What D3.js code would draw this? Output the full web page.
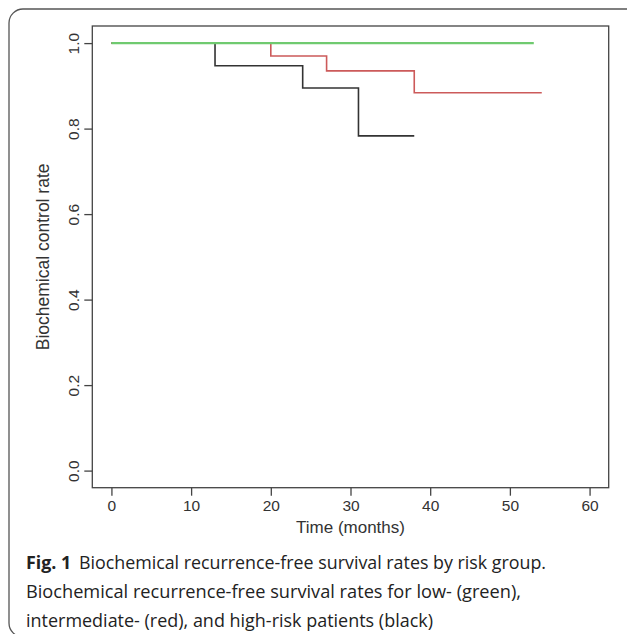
<!DOCTYPE html>
<html>
<head>
<meta charset="utf-8">
<script src="https://cdn.jsdelivr.net/npm/d3@7"></script>
<style>
  body { margin: 0; background: #fff; }
  svg { display: block; }
</style>
</head>
<body>
<svg id="chart" width="627" height="634"></svg>
<script>
// step curves: [time, rate] change points
const low_risk = [[0, 1], [53, 1]];
const mid_risk = [[0, 1], [20, 0.97], [27, 0.935], [38, 0.884], [54, 0.884]];
const high_risk = [[0, 1], [13, 0.947], [24, 0.895], [31, 0.783], [38, 0.783]];
const x_ticks = [0, 10, 20, 30, 40, 50, 60];
const y_ticks = [0, 0.2, 0.4, 0.6, 0.8, 1.0];
const caption_lines = [
	"Biochemical recurrence-free survival rates by risk group.",
	"Biochemical recurrence-free survival rates for low- (green),",
	"intermediate- (red), and high-risk patients (black)",
];

const svg = d3.select("#chart");

// outer frame of the figure
svg.append("rect")
	.attr("x", 9).attr("y", 9)
	.attr("width", 640).attr("height", 628)
	.attr("rx", 14)
	.attr("fill", "none")
	.attr("stroke", "#555")
	.attr("stroke-width", 1.3);

const box = { left: 92.3, right: 608.7, top: 26, bottom: 487.7 };

const x = d3.scaleLinear().domain([-2.4, 62.4]).range([box.left, box.right]);
const y = d3.scaleLinear().domain([-0.04, 1.04]).range([box.bottom, box.top]);

const axis_col = "#444";
const plot_font = "'Liberation Sans', Arial, sans-serif";

svg.append("rect")
	.attr("x", box.left).attr("y", box.top)
	.attr("width", box.right - box.left).attr("height", box.bottom - box.top)
	.attr("fill", "none")
	.attr("stroke", axis_col)
	.attr("stroke-width", 1.3);

const x_axis = svg.append("g")
	.attr("transform", `translate(0,${box.bottom})`)
	.call(d3.axisBottom(x).tickValues(x_ticks).tickSize(8).tickPadding(4).tickFormat(d3.format("d")));

const y_axis = svg.append("g")
	.attr("transform", `translate(${box.left},0)`)
	.call(d3.axisLeft(y).tickValues(y_ticks).tickSize(8).tickFormat(d3.format(".1f")));

[x_axis, y_axis].forEach((g) => {
	g.select(".domain").remove();
	g.selectAll(".tick line").attr("stroke", axis_col).attr("stroke-width", 1.3);
	g.selectAll(".tick text")
		.attr("fill", "#333")
		.attr("font-family", plot_font)
		.attr("font-size", 15.5);
});

y_axis.selectAll(".tick text")
	.attr("x", null).attr("dy", null)
	.attr("text-anchor", "middle")
	.attr("transform", "translate(-19,0) rotate(-90)")
	.attr("dy", "0.35em");

svg.append("text")
	.attr("x", (box.left + box.right) / 2)
	.attr("y", 533)
	.attr("text-anchor", "middle")
	.attr("font-family", plot_font)
	.attr("font-size", 17)
	.attr("fill", "#333")
	.text("Time (months)");

svg.append("text")
	.attr("transform", `translate(49,${(box.top + box.bottom) / 2}) rotate(-90)`)
	.attr("text-anchor", "middle")
	.attr("font-family", plot_font)
	.attr("font-size", 17.5)
	.attr("fill", "#333")
	.text("Biochemical control rate");

const line = d3.line()
	.x((d) => x(d[0]))
	.y((d) => y(d[1]))
	.curve(d3.curveStepAfter);

const series = [
	{ data: high_risk, color: "#333", width: 1.6 },
	{ data: mid_risk, color: "#cc5a5a", width: 1.6 },
	{ data: low_risk, color: "#6fca6f", width: 2.4 },
];

svg.append("g")
	.selectAll("path")
	.data(series)
	.join("path")
	.attr("d", (d) => line(d.data))
	.attr("fill", "none")
	.attr("stroke", (d) => d.color)
	.attr("stroke-width", (d) => d.width);

// caption
const cap_font = "'Open Sans', 'Noto Sans', sans-serif";
const cap = svg.append("g")
	.attr("font-family", cap_font)
	.attr("font-size", 18.5)
	.attr("fill", "#222");

const cap_y = [569, 598, 627];
const first = cap.append("text").attr("x", 26).attr("y", cap_y[0]);
first.append("tspan").attr("font-weight", "bold").text("Fig. 1");
first.append("tspan").attr("dx", 8).text(caption_lines[0]);

cap.selectAll("text.more")
	.data(caption_lines.slice(1))
	.join("text")
	.attr("class", "more")
	.attr("x", 26)
	.attr("y", (d, i) => cap_y[i + 1])
	.text((d) => d);

// squeeze the caption lines to the widths in the figure
const cap_ends = [546, 521, 433];
cap.selectAll("text").each(function (d, i) {
	d3.select(this)
		.attr("textLength", cap_ends[i] - 26)
		.attr("lengthAdjust", "spacingAndGlyphs");
});
</script>
</body>
</html>
